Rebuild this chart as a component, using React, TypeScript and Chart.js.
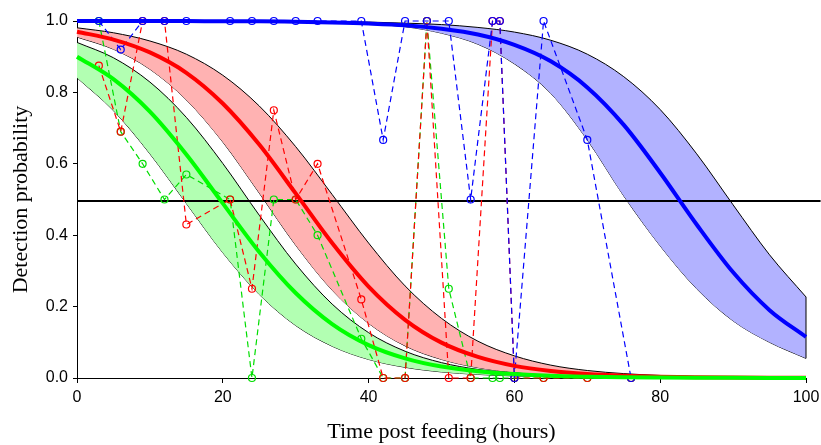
import React, { useEffect, useRef } from "react";
import { Chart, registerables } from "chart.js";

Chart.register(...registerables);

// Fitted-curve grid (hours)
const curveHours = [0, 5, 10, 15, 20, 25, 30, 35, 40, 45, 50, 55, 60, 65, 70, 75, 80, 85, 90, 95, 100];

const greenMid = [0.9, 0.837, 0.746, 0.626, 0.489, 0.353, 0.238, 0.151, 0.092, 0.055, 0.032, 0.019, 0.011, 0.006, 0.0035, 0.002, 0.0012, 0.0007, 0.0004, 0.0002, 0.0001];
const greenLow = [0.841, 0.749, 0.628, 0.489, 0.351, 0.234, 0.147, 0.089, 0.052, 0.03, 0.017, 0.01, 0.0057, 0.0032, 0.0018, 0.001, 0.0006, 0.0003, 0.0002, 0.0001, 0.0001];
const greenHigh = [0.94, 0.897, 0.829, 0.73, 0.601, 0.456, 0.319, 0.207, 0.127, 0.075, 0.043, 0.024, 0.014, 0.0077, 0.0043, 0.0024, 0.0014, 0.0008, 0.0004, 0.0002, 0.0001];

const redMid = [0.97, 0.948, 0.912, 0.855, 0.769, 0.654, 0.517, 0.378, 0.256, 0.163, 0.099, 0.059, 0.034, 0.0196, 0.0112, 0.0064, 0.0036, 0.0021, 0.0012, 0.0007, 0.0004];
const redLow = [0.955, 0.921, 0.865, 0.779, 0.661, 0.518, 0.372, 0.246, 0.153, 0.09, 0.052, 0.029, 0.016, 0.009, 0.005, 0.0028, 0.0015, 0.0008, 0.0005, 0.0003, 0.0001];
const redHigh = [0.981, 0.967, 0.944, 0.907, 0.848, 0.762, 0.648, 0.514, 0.378, 0.258, 0.167, 0.103, 0.062, 0.036, 0.021, 0.0123, 0.0071, 0.0041, 0.0024, 0.0014, 0.0008];

const blueMid = [1.0, 1.0, 1.0, 1.0, 0.999, 0.999, 0.998, 0.996, 0.993, 0.988, 0.978, 0.962, 0.933, 0.887, 0.814, 0.709, 0.575, 0.43, 0.296, 0.19, 0.115];
const blueLow = [1.0, 1.0, 0.999, 0.999, 0.998, 0.997, 0.996, 0.995, 0.991, 0.984, 0.966, 0.935, 0.88, 0.797, 0.667, 0.51, 0.37, 0.25, 0.16, 0.1, 0.055];
const blueHigh = [1.0, 1.0, 1.0, 1.0, 1.0, 0.999, 0.999, 0.998, 0.997, 0.994, 0.99, 0.982, 0.969, 0.946, 0.907, 0.844, 0.752, 0.628, 0.485, 0.345, 0.227];

// Observed proportions (hours)
const obsHours = [3, 6, 9, 12, 15, 21, 24, 27, 30, 33, 39, 42, 45, 48, 51, 54, 57, 58, 60, 64, 70, 76];
const blueObs = [1, 0.92, 1, 1, 1, 1, 1, 1, 1, 1, 1, 0.667, 1, 1, 1, 0.5, 1, 1, 0, 1, 0.667, 0];
const redObs = [0.875, 0.69, 1, 1, 0.43, 0.5, 0.25, 0.75, 0.5, 0.6, 0.22, 0, 0, 1, 0, 0, 1, 1, 0, 0, 0, 0];
const greenObs = [1, 0.69, 0.6, 0.5, 0.57, 0.5, 0, 0.5, 0.5, 0.4, 0.11, 0, 0, 1, 0.25, 0, 0, 0, 0, 0, 0, 0];

const thresholdX = [0, 102];
const thresholdY = 0.496;

const xTicksStep = 20;
const yTicksStep = 0.2;

const pts = (xs: number[], ys: number[]) => xs.map((x, i) => ({ x, y: ys[i] }));

export default function App() {
  const ref = useRef<HTMLCanvasElement>(null);

  useEffect(() => {
    if (!ref.current) return;
    const curve = (ys: number[], color: string, order: number) => ({
      data: pts(curveHours, ys),
      borderColor: color,
      borderWidth: 4,
      pointRadius: 0,
      fill: false,
      cubicInterpolationMode: "monotone" as const,
      clip: false as any,
      order,
    });
    const bandLow = (ys: number[], order: number) => ({
      data: pts(curveHours, ys),
      borderColor: "#000000",
      borderWidth: 1,
      pointRadius: 0,
      fill: false,
      cubicInterpolationMode: "monotone" as const,
      clip: false as any,
      order,
    });
    const bandHigh = (ys: number[], fillColor: string, order: number) => ({
      data: pts(curveHours, ys),
      borderColor: "#000000",
      borderWidth: 1,
      pointRadius: 0,
      fill: "-1",
      backgroundColor: fillColor,
      cubicInterpolationMode: "monotone" as const,
      clip: false as any,
      order,
    });
    const obs = (ys: number[], color: string, order: number) => ({
      data: pts(obsHours, ys),
      borderColor: color,
      borderWidth: 1.2,
      borderDash: [6, 4],
      pointRadius: 3.5,
      pointBorderWidth: 1.2,
      pointBorderColor: color,
      pointBackgroundColor: "rgba(0,0,0,0)",
      pointStyle: "circle",
      fill: false,
      tension: 0,
      clip: false as any,
      order,
    });

    const last = curveHours.length - 1;
    const chart = new Chart(ref.current, {
      type: "line",
      data: {
        datasets: [
          bandLow(blueLow, 20),
          bandHigh(blueHigh, "rgb(178,178,255)", 19),
          {
            data: [
              { x: curveHours[last], y: blueLow[last] },
              { x: curveHours[last], y: blueHigh[last] },
            ],
            borderColor: "#000000",
            borderWidth: 1,
            pointRadius: 0,
            fill: false,
            clip: false as any,
            order: 18,
          },
          bandLow(redLow, 17),
          bandHigh(redHigh, "rgb(255,178,178)", 16),
          bandLow(greenLow, 15),
          bandHigh(greenHigh, "rgb(178,255,178)", 14),
          {
            data: thresholdX.map((x) => ({ x, y: thresholdY })),
            borderColor: "#000000",
            borderWidth: 2,
            pointRadius: 0,
            fill: false,
            clip: false as any,
            order: 10,
          },
          obs(greenObs, "#00dd00", 8),
          obs(redObs, "#ff0000", 7),
          obs(blueObs, "#0000ff", 6),
          curve(blueMid, "#0000ff", 3),
          curve(redMid, "#ff0000", 2),
          curve(greenMid, "#00ff00", 1),
        ] as any,
      },
      options: {
        animation: false,
        responsive: false,
        events: [],
        layout: { padding: { left: 0, right: 15, top: 21, bottom: 0 } },
        plugins: {
          legend: { display: false },
          tooltip: { enabled: false },
        },
        scales: {
          x: {
            type: "linear",
            min: 0,
            max: 100,
            afterFit: (s: any) => {
              s.height = 67;
              s.paddingLeft = 0;
              s.paddingRight = 0;
            },
            ticks: {
              stepSize: xTicksStep,
              includeBounds: false,
              maxRotation: 0,
              padding: 5,
              color: "#000000",
              font: { family: "'Liberation Sans', Arial, sans-serif", size: 16 },
            },
            grid: {
              drawOnChartArea: false,
              drawTicks: true,
              tickLength: 5,
              color: "#000000",
              lineWidth: 1,
            },
            border: { display: true, color: "#000000", width: 1 },
            title: {
              display: true,
              text: "Time post feeding (hours)",
              color: "#000000",
              font: { family: "'Liberation Serif', 'Times New Roman', serif", size: 22 },
              padding: { top: 0, bottom: 0 },
            },
          },
          y: {
            type: "linear",
            min: 0,
            max: 1,
            afterFit: (s: any) => {
              s.width = 77;
              s.paddingTop = 0;
              s.paddingBottom = 0;
            },
            ticks: {
              stepSize: yTicksStep,
              padding: 5,
              color: "#000000",
              font: { family: "'Liberation Sans', Arial, sans-serif", size: 16 },
              callback: (v: any) => Number(v).toFixed(1),
            },
            grid: {
              drawOnChartArea: false,
              drawTicks: true,
              tickLength: 4,
              color: "#000000",
              lineWidth: 1,
            },
            border: { display: true, color: "#000000", width: 1 },
            title: {
              display: true,
              text: "Detection probability",
              color: "#000000",
              font: { family: "'Liberation Serif', 'Times New Roman', serif", size: 22 },
              padding: { top: 8, bottom: 0 },
            },
          },
        },
      } as any,
    });
    return () => chart.destroy();
  }, []);

  return (
    <div style={{ position: "fixed", left: 0, top: 0, width: 821, height: 445, background: "#ffffff" }}>
      <canvas ref={ref} width={821} height={445} style={{ display: "block", width: 821, height: 445 }} />
    </div>
  );
}
